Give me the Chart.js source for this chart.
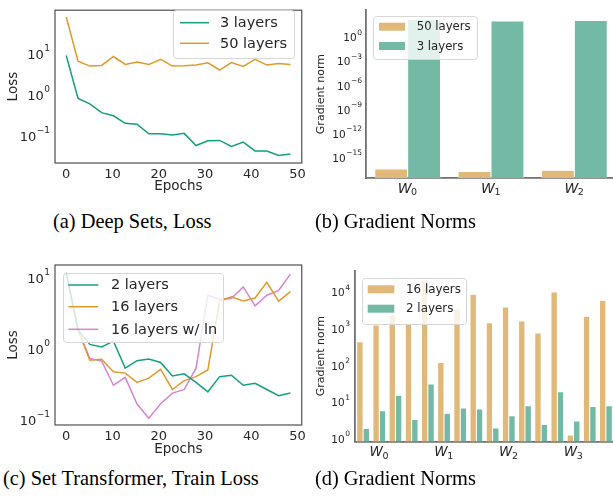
<!DOCTYPE html>
<html>
<head>
<meta charset="utf-8">
<script src="https://cdn.jsdelivr.net/npm/chart.js@4/dist/chart.umd.min.js"></script>
<style>
  body { margin: 0; width: 613px; height: 501px; overflow: hidden; background: #fff; position: relative; }
  canvas { position: absolute; }
  .cap { position: absolute; font-family: "Liberation Serif", serif; font-size: 20.4px; line-height: 22px; color: #000; white-space: nowrap; }
</style>
</head>
<body>
<canvas id="ca" width="310" height="200" style="left:0;top:0"></canvas>
<canvas id="cb" width="311" height="200" style="left:305px;top:0"></canvas>
<canvas id="cc" width="310" height="210" style="left:0;top:250px"></canvas>
<canvas id="cd" width="314" height="210" style="left:300px;top:250px"></canvas>
<div class="cap" style="left:53px;top:210px">(a) Deep Sets, Loss</div>
<div class="cap" style="left:315px;top:210px">(b) Gradient Norms</div>
<div class="cap" style="left:3px;top:467px">(c) Set Transformer, Train Loss</div>
<div class="cap" style="left:315px;top:467px">(d) Gradient Norms</div>
<script>
// epochs sampled in the loss curves
var epochs = [0, 2.55, 5.1, 7.65, 10.2, 12.75, 15.3, 17.85, 20.4, 22.95, 25.5, 28.05, 30.6, 33.15, 35.7, 38.25, 40.8, 43.35, 45.9, 48.45];

// (a) Deep Sets loss
var lossDeep3 = [9.2, 0.84, 0.62, 0.38, 0.32, 0.21, 0.2, 0.117, 0.117, 0.11, 0.12, 0.061, 0.079, 0.081, 0.058, 0.074, 0.045, 0.045, 0.035, 0.038];
var lossDeep50 = [79, 6.7, 5.1, 5.3, 8.7, 5.6, 6.4, 5.6, 7.4, 5.1, 5.2, 5.4, 6.1, 4.1, 6.2, 5.0, 7.4, 5.4, 5.9, 5.6];

// (b) gradient norms, deep sets
var catsB = ['W0', 'W1', 'W2'];
var subsB = ['0', '1', '2'];
var gradB50 = [4e-17, 2e-17, 2.8e-17];
var gradB3 = [190, 117, 142];

// (c) set transformer train loss
var lossST2 = [12, 1.87, 1.17, 1.08, 1.30, 0.54, 0.69, 0.73, 0.65, 0.42, 0.45, 0.34, 0.25, 0.41, 0.43, 0.31, 0.33, 0.27, 0.22, 0.24];
var lossST16 = [12, 1.87, 0.70, 0.72, 0.48, 0.46, 0.34, 0.39, 0.52, 0.27, 0.36, 0.41, 0.51, 4.8, 5.5, 4.8, 5.3, 8.8, 4.8, 6.5];
var lossST16ln = [12, 1.87, 0.74, 0.68, 0.31, 0.40, 0.168, 0.106, 0.17, 0.24, 0.27, 0.54, 5.8, 5.1, 5.2, 7.6, 4.1, 5.8, 6.8, 11.5];

// (d) gradient norms, set transformer
var catsD = [0, 1, 2, 3, 4, 5, 6, 7, 8, 9, 10, 11, 12, 13, 14, 15];
var tickIdxD = [1, 5, 9, 13];
var subsD = ['0', '1', '2', '3'];
var gradD16 = [450, 1290, 2400, 1370, 21800, 123, 3600, 8900, 1480, 4000, 1650, 780, 10200, 1.3, 2250, 6150];
var gradD2 = [1.95, 5.9, 15.8, 3.4, 31.6, 5.1, 7.0, 6.6, 2.0, 4.3, 8.1, 2.5, 19.5, 3.1, 7.8, 8.1];

// axis ticks (log labels are drawn as 10 + superscript exponent)
var xTicksLoss = [0, 10, 20, 30, 40, 50];
var yTicksLoss = [0.1, 1, 10];
var yExpLoss = ['\u22121', '0', '1'];
var yTicksB = [1e-15, 1e-12, 1e-9, 1e-6, 1e-3, 1];
var yExpB = ['\u221215', '\u221212', '\u22129', '\u22126', '\u22123', '0'];
var yTicksD = [1, 10, 100, 1000, 10000];
var yExpD = ['0', '1', '2', '3', '4'];

var GREEN = '#13a07a', ORANGE = '#e3982a', PINK = '#d585cf';
var BAR_OR = '#e0b97a', BAR_GR = '#74b9a5';
var TXT = '#262626';
var FONT = "'DejaVu Sans'";

Chart.defaults.font.family = FONT;
Chart.defaults.color = TXT;
Chart.defaults.animation = false;

// matplotlib-like legend box drawn on top of the data
var boxLegend = {
    id: 'boxLegend',
    afterDatasetsDraw: function(chart, args, o) {
        var ctx = chart.ctx;
        ctx.save();
        ctx.beginPath();
        ctx.roundRect(o.x + 0.5, o.y + 0.5, o.w, o.h, 3);
        ctx.fillStyle = 'rgba(255,255,255,0.8)';
        ctx.fill();
        ctx.strokeStyle = '#d6d6d6';
        ctx.lineWidth = 1;
        ctx.stroke();
        ctx.font = o.size + 'px ' + FONT;
        ctx.textBaseline = 'middle';
        chart.data.datasets.forEach(function(ds, i) {
            var y = o.rows[i];
            if (o.kind === 'line') {
                ctx.strokeStyle = ds.borderColor;
                ctx.lineWidth = 1.5;
                ctx.beginPath();
                ctx.moveTo(o.sx, y);
                ctx.lineTo(o.sx + o.sw, y);
                ctx.stroke();
            } else {
                ctx.fillStyle = ds.backgroundColor;
                ctx.fillRect(o.sx, y - 4, o.sw, 8);
            }
            ctx.fillStyle = TXT;
            ctx.fillText(ds.label, o.tx, y + 0.5);
        });
        ctx.restore();
    }
};

// full box frame around the plot area
var frame = {
    id: 'frame',
    afterDatasetsDraw: function(chart, args, o) {
        if (!o.on) return;
        var a = chart.chartArea, ctx = chart.ctx;
        ctx.save();
        ctx.strokeStyle = '#505050';
        ctx.lineWidth = 1.2;
        ctx.strokeRect(a.left, a.top, a.right - a.left, a.bottom - a.top);
        ctx.restore();
    }
};

// mathtext-like tick labels: 10^e on y, W_i on x
var mathTicks = {
    id: 'mathTicks',
    afterDraw: function(chart, args, o) {
        var ctx = chart.ctx, a = chart.chartArea;
        ctx.save();
        ctx.fillStyle = TXT;
        ctx.textBaseline = 'alphabetic';
        var ys = chart.scales.y;
        o.yTicks.forEach(function(v, i) {
            var py = ys.getPixelForValue(v);
            var base = py + 0.36 * o.size;
            ctx.font = o.esize + 'px ' + FONT;
            var ew = ctx.measureText(o.yExp[i]).width;
            var right = a.left - o.gap;
            ctx.textAlign = 'right';
            ctx.fillText(o.yExp[i], right, base - 0.62 * o.size);
            ctx.font = o.size + 'px ' + FONT;
            ctx.fillText('10', right - ew - 0.5, base);
        });
        if (o.xSubs) {
            var xs = chart.scales.x;
            o.xSubs.forEach(function(s, i) {
                var px = xs.getPixelForValue(o.xIdx[i]);
                ctx.font = 'italic ' + o.wsize + 'px ' + FONT;
                var ww = ctx.measureText('W').width;
                ctx.font = o.ssize + 'px ' + FONT;
                var sw = ctx.measureText(s).width;
                var x0 = px - (ww + sw) / 2;
                var base = a.bottom + 14.5;
                ctx.textAlign = 'left';
                ctx.font = 'italic ' + o.wsize + 'px ' + FONT;
                ctx.fillText('W', x0, base);
                ctx.font = o.ssize + 'px ' + FONT;
                ctx.fillText(s, x0 + ww - 0.5, base + 2.5);
            });
        }
        ctx.restore();
    }
};

function pts(ys) {
    return ys.map(function(y, i) { return {x: epochs[i], y: y}; });
}

function lineDs(label, ys, color) {
    return {label: label, data: pts(ys), borderColor: color, backgroundColor: color,
            borderWidth: 1.5, pointRadius: 0, tension: 0, fill: false};
}

function lossChart(id, datasets, yMin, yMax, pad, xH, yW, legend, titlePadX, titlePadY) {
    return new Chart(document.getElementById(id), {
        type: 'line',
        data: {datasets: datasets},
        options: {
            responsive: false,
            layout: {padding: {left: 0, top: pad.top, right: pad.right, bottom: 0}},
            plugins: {legend: {display: false}, tooltip: {enabled: false},
                      frame: {on: true}, boxLegend: legend,
                      mathTicks: {yTicks: yTicksLoss, yExp: yExpLoss, size: 13, esize: 9, gap: 5}},
            scales: {
                x: {
                    type: 'linear', min: -2.43, max: 50.9,
                    grid: {display: false, drawTicks: false}, border: {display: false},
                    afterBuildTicks: function(s) { s.ticks = xTicksLoss.map(function(v) { return {value: v}; }); },
                    afterFit: function(s) { s.height = xH; },
                    ticks: {font: {size: 13}, padding: 4, maxRotation: 0, autoSkip: false,
                            callback: function(v) { return String(v); }},
                    title: {display: true, text: 'Epochs', font: {size: 13.5}, padding: {top: 0, bottom: titlePadX}}
                },
                y: {
                    type: 'logarithmic', min: yMin, max: yMax,
                    grid: {display: false, drawTicks: false}, border: {display: false},
                    afterBuildTicks: function(s) { s.ticks = yTicksLoss.map(function(v) { return {value: v}; }); },
                    afterFit: function(s) { s.width = yW; },
                    ticks: {autoSkip: false, callback: function() { return ''; }},
                    title: {display: true, text: 'Loss', font: {size: 13.5}, padding: {top: titlePadY, bottom: 0}}
                }
            }
        },
        plugins: [frame, boxLegend, mathTicks]
    });
}

function barChart(id, labels, datasets, yMin, yMax, ticks, pad, xH, yW, legend, titlePadY) {
    return new Chart(document.getElementById(id), {
        type: 'bar',
        data: {labels: labels, datasets: datasets},
        options: {
            responsive: false,
            layout: {padding: {left: 0, top: pad.top, right: pad.right, bottom: 0}},
            datasets: {bar: {categoryPercentage: 0.79, barPercentage: 1, borderColor: '#fff', borderWidth: 0.5}},
            plugins: {legend: {display: false}, tooltip: {enabled: false},
                      frame: {on: false}, boxLegend: legend, mathTicks: ticks},
            scales: {
                x: {
                    grid: {display: false, drawTicks: false},
                    border: {display: true, color: '#707070', width: 1.8},
                    afterFit: function(s) { s.height = xH; },
                    ticks: {autoSkip: false, maxRotation: 0, callback: function() { return ''; }}
                },
                y: {
                    type: 'logarithmic', min: yMin, max: yMax,
                    grid: {display: false, drawTicks: false},
                    border: {display: true, color: '#707070', width: 1.8},
                    afterBuildTicks: function(s) { s.ticks = ticks.yTicks.map(function(v) { return {value: v}; }); },
                    afterFit: function(s) { s.width = yW; },
                    ticks: {autoSkip: false, callback: function() { return ''; }},
                    title: {display: true, text: 'Gradient norm', font: {size: 11}, padding: {top: titlePadY, bottom: 0}}
                }
            }
        },
        plugins: [frame, boxLegend, mathTicks]
    });
}

// (a)
lossChart('ca',
    [lineDs('3 layers', lossDeep3, GREEN), lineDs('50 layers', lossDeep50, ORANGE)],
    0.023, 115, {top: 2, right: 8}, 37, 55,
    {kind: 'line', x: 173, y: 10, w: 121, h: 48, rows: [22.7, 43.3], sx: 180, sw: 29, tx: 220, size: 14.5},
    5, 5);

// (b)
barChart('cb', catsB,
    [{label: '50 layers', data: gradB50, backgroundColor: BAR_OR},
     {label: '3 layers', data: gradB3, backgroundColor: BAR_GR}],
    3.2e-18, 2700,
    {yTicks: yTicksB, yExp: yExpB, size: 10.5, esize: 7.5, gap: 4, xSubs: subsB, xIdx: [0, 1, 2], wsize: 14, ssize: 9.5},
    {top: 9, right: 0}, 22, 61,
    {kind: 'bar', x: 68, y: 16, w: 104, h: 43, rows: [26.7, 46], sx: 74, sw: 26, tx: 111.7, size: 11.7},
    10);

// (c)
lossChart('cc',
    [lineDs('2 layers', lossST2, GREEN), lineDs('16 layers', lossST16, ORANGE), lineDs('16 layers w/ ln', lossST16ln, PINK)],
    0.085, 15.5, {top: 15, right: 8}, 35, 55,
    {kind: 'line', x: 63, y: 23, w: 160, h: 69, rows: [35, 56.7, 79.3], sx: 68.3, sw: 30, tx: 111, size: 14.5},
    2, 5);

// (d)
barChart('cd', catsD,
    [{label: '16 layers', data: gradD16, backgroundColor: BAR_OR},
     {label: '2 layers', data: gradD2, backgroundColor: BAR_GR}],
    0.85, 39000,
    {yTicks: yTicksD, yExp: yExpD, size: 10.5, esize: 7.5, gap: 5, xSubs: subsD, xIdx: tickIdxD, wsize: 13.5, ssize: 9.5},
    {top: 20.7, right: 0}, 18.3, 55,
    {kind: 'bar', x: 62, y: 28, w: 104, h: 46, rows: [39.3, 58.7], sx: 67.7, sw: 26.6, tx: 106, size: 11.9},
    15);
</script>
</body>
</html>
